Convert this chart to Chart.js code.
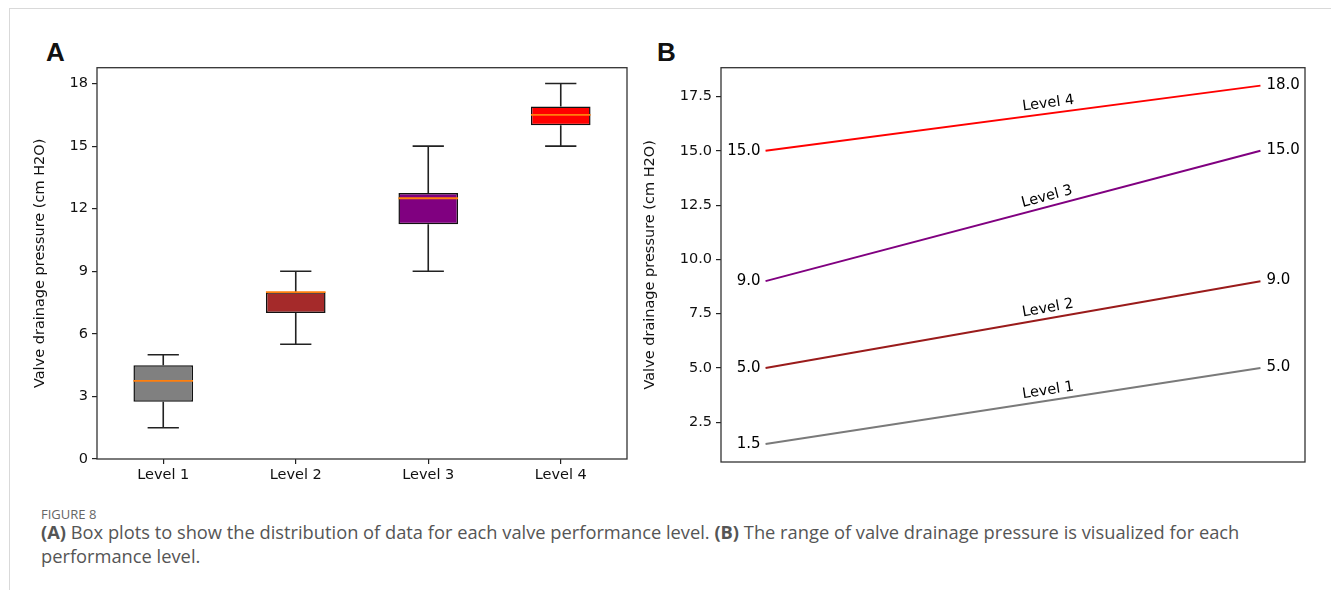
<!DOCTYPE html>
<html>
<head>
<meta charset="utf-8">
<script src="https://cdn.jsdelivr.net/npm/chart.js@4.4.1/dist/chart.umd.min.js"></script>
<style>
  body { margin: 0; width: 1331px; height: 590px; background: #fff; position: relative; overflow: hidden; }
  #lineTop { position: absolute; left: 9px; top: 8px; right: 0; height: 1px; background: #d9d9d9; }
  #lineLeft { position: absolute; left: 9px; top: 8px; bottom: 0; width: 1px; background: #d9d9d9; }
  .panel { position: absolute; }
  .letter { position: absolute; font: bold 26px "Liberation Sans", Arial, sans-serif; color: #111; }
  #figLabel { position: absolute; left: 41px; top: 505px; font: 13px "Open Sans", sans-serif; color: #666; }
  #caption { position: absolute; left: 41px; top: 520px; width: 1280px; font: 18.3px/24px "Open Sans", sans-serif; color: #555; }
  #caption b { color: #555; }
</style>
</head>
<body>
<div id="lineTop"></div>
<div id="lineLeft"></div>
<div class="letter" style="left:46px; top:37px;">A</div>
<div class="letter" style="left:657px; top:37px;">B</div>
<div class="panel" style="left:30px; top:55px; width:610px; height:440px;"><canvas id="boxChart"></canvas></div>
<div class="panel" style="left:640px; top:55px; width:691px; height:420px;"><canvas id="rangeChart"></canvas></div>
<div id="figLabel">FIGURE 8</div>
<div id="caption"><b>(A)</b> Box plots to show the distribution of data for each valve performance level. <b>(B)</b> The range of valve drainage pressure is visualized for each<br>performance level.</div>

<script>
// panel A: box plot values
const levels = ['Level 1', 'Level 2', 'Level 3', 'Level 4'];
const whiskerLow = [1.5, 5.5, 9, 15];
const q1 = [2.75, 7, 11.25, 16];
const median = [3.75, 8, 12.5, 16.5];
const q3 = [4.5, 8, 12.75, 16.9];
const whiskerHigh = [5, 9, 15, 18];
const boxColors = ['#808080', '#a52a2a', '#800080', '#ff0000'];
const yTicksA = [0, 3, 6, 9, 12, 15, 18];

// panel B: pressure range per level
const rangeStart = [1.5, 5.0, 9.0, 15.0];
const rangeEnd = [5.0, 9.0, 15.0, 18.0];
const lineColors = ['#7a7a7a', '#9a1b1b', '#800080', '#ff0000'];
const yTicksB = [2.5, 5.0, 7.5, 10.0, 12.5, 15.0, 17.5];

const tickFont = { family: 'DejaVu Sans', size: 14.5 };
const titleFont = { family: 'DejaVu Sans', size: 14.5 };
const ink = '#111';

const framePlugin = {
  id: 'frame',
  afterDraw(chart) {
    const { ctx, chartArea: a } = chart;
    ctx.save();
    ctx.strokeStyle = '#333';
    ctx.lineWidth = 1.3;
    ctx.strokeRect(a.left, a.top, a.right - a.left, a.bottom - a.top);
    ctx.restore();
  }
};

const boxPartsPlugin = {
  id: 'boxParts',
  afterDatasetsDraw(chart) {
    const { ctx, scales: { x, y } } = chart;
    const band = x.width / levels.length;
    ctx.save();
    levels.forEach((lab, i) => {
      const cx = x.getPixelForValue(i);
      const capHalf = band * 0.118;
      const boxHalf = band * 0.225;
      ctx.strokeStyle = '#222';
      ctx.lineWidth = 1.6;
      ctx.beginPath();
      ctx.moveTo(cx, y.getPixelForValue(q3[i]));
      ctx.lineTo(cx, y.getPixelForValue(whiskerHigh[i]));
      ctx.moveTo(cx, y.getPixelForValue(q1[i]));
      ctx.lineTo(cx, y.getPixelForValue(whiskerLow[i]));
      ctx.moveTo(cx - capHalf, y.getPixelForValue(whiskerHigh[i]));
      ctx.lineTo(cx + capHalf, y.getPixelForValue(whiskerHigh[i]));
      ctx.moveTo(cx - capHalf, y.getPixelForValue(whiskerLow[i]));
      ctx.lineTo(cx + capHalf, y.getPixelForValue(whiskerLow[i]));
      ctx.stroke();
      ctx.strokeStyle = '#ff7f0e';
      ctx.lineWidth = 1.8;
      ctx.beginPath();
      ctx.moveTo(cx - boxHalf, y.getPixelForValue(median[i]));
      ctx.lineTo(cx + boxHalf, y.getPixelForValue(median[i]));
      ctx.stroke();
    });
    ctx.restore();
  }
};

new Chart(document.getElementById('boxChart'), {
  type: 'bar',
  data: {
    labels: levels,
    datasets: [{
      data: levels.map((l, i) => [q1[i], q3[i]]),
      backgroundColor: boxColors,
      borderColor: '#111',
      borderWidth: 1.5,
      borderSkipped: false,
      categoryPercentage: 1,
      barPercentage: 0.45
    }]
  },
  options: {
    responsive: true,
    maintainAspectRatio: false,
    animation: false,
    layout: { padding: { top: 10, right: 13, left: 0, bottom: 0 } },
    plugins: { legend: { display: false }, tooltip: { enabled: false } },
    scales: {
      x: {
        offset: true,
        border: { display: false },
        grid: { drawOnChartArea: false, offset: false, tickLength: 5, color: '#222', lineWidth: 1.2 },
        ticks: { color: ink, font: tickFont, padding: 3 },
        afterFit(s) { s.height = 36; }
      },
      y: {
        min: 0,
        max: 18.76,
        border: { display: false },
        afterBuildTicks(s) { s.ticks = yTicksA.map(v => ({ value: v })); },
        grid: { drawOnChartArea: false, tickLength: 5, color: '#222', lineWidth: 1.2 },
        ticks: { color: ink, font: tickFont, padding: 4 },
        title: { display: true, text: 'Valve drainage pressure (cm H2O)', color: ink, font: titleFont, padding: { top: 2, bottom: 0 } },
        afterFit(s) { s.width = 67; }
      }
    }
  },
  plugins: [boxPartsPlugin, framePlugin]
});

const rangeLabelPlugin = {
  id: 'rangeLabels',
  afterDatasetsDraw(chart) {
    const { ctx, scales: { x, y } } = chart;
    ctx.save();
    levels.forEach((lab, i) => {
      const x0 = x.getPixelForValue(0), x1 = x.getPixelForValue(1);
      const y0 = y.getPixelForValue(rangeStart[i]), y1 = y.getPixelForValue(rangeEnd[i]);
      ctx.fillStyle = '#000';
      ctx.font = '15px "DejaVu Sans"';
      ctx.textBaseline = 'middle';
      ctx.textAlign = 'right';
      ctx.fillText(rangeStart[i].toFixed(1), x0 - 5, y0);
      ctx.textAlign = 'left';
      ctx.fillText(rangeEnd[i].toFixed(1), x1 + 6, y1 - 1);
      const ang = Math.atan2(y1 - y0, x1 - x0);
      const t = 0.574;
      const px = x0 + (x1 - x0) * t, py = y0 + (y1 - y0) * t;
      ctx.save();
      ctx.translate(px + 10 * Math.sin(ang), py - 10 * Math.cos(ang));
      ctx.rotate(ang);
      ctx.textAlign = 'center';
      ctx.font = '14.5px "DejaVu Sans"';
      ctx.fillText(lab, 0, 0);
      ctx.restore();
    });
    ctx.restore();
  }
};

new Chart(document.getElementById('rangeChart'), {
  type: 'line',
  data: {
    datasets: levels.map((lab, i) => ({
      label: lab,
      data: [{ x: 0, y: rangeStart[i] }, { x: 1, y: rangeEnd[i] }],
      borderColor: lineColors[i],
      borderWidth: 2,
      pointRadius: 0,
      tension: 0
    }))
  },
  options: {
    responsive: true,
    maintainAspectRatio: false,
    animation: false,
    layout: { padding: { top: 12, right: 26, left: 0, bottom: 13 } },
    plugins: { legend: { display: false }, tooltip: { enabled: false } },
    scales: {
      x: { type: 'linear', min: -0.09, max: 1.09, display: false },
      y: {
        min: 0.675,
        max: 18.825,
        border: { display: false },
        afterBuildTicks(s) { s.ticks = yTicksB.map(v => ({ value: v })); },
        grid: { drawOnChartArea: false, tickLength: 5, color: '#222', lineWidth: 1.2 },
        ticks: { color: ink, font: tickFont, padding: 4, callback: v => v.toFixed(1) },
        title: { display: true, text: 'Valve drainage pressure (cm H2O)', color: ink, font: titleFont, padding: { top: 2, bottom: 0 } },
        afterFit(s) { s.width = 81; }
      }
    }
  },
  plugins: [rangeLabelPlugin, framePlugin]
});
</script>
</body>
</html>
